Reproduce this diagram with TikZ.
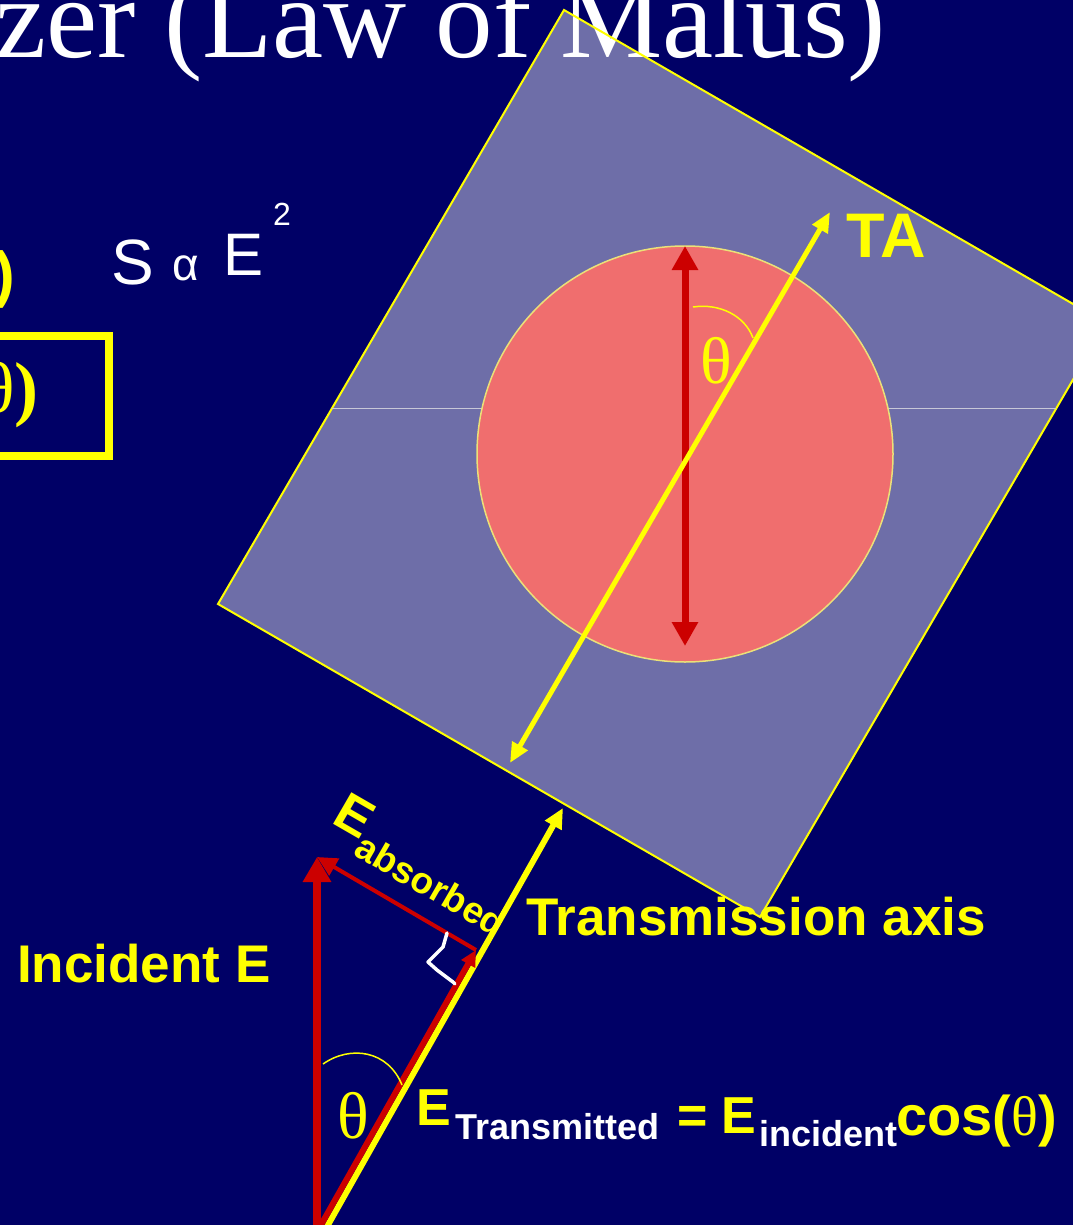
\documentclass[tikz,border=0pt]{standalone}
\usepackage{fontspec}
\setmainfont{Liberation Serif}
\setsansfont{Liberation Sans}
\usetikzlibrary{arrows.meta}
\definecolor{navybg}{RGB}{0,0,102}
\definecolor{ylw}{RGB}{255,255,0}
\definecolor{dred}{RGB}{204,0,0}
\definecolor{salmon}{RGB}{240,110,110}
\definecolor{paleyel}{RGB}{235,225,120}
\definecolor{faint}{RGB}{200,200,215}
\tikzset{
  lbl/.style={inner sep=0pt, text=ylw, font=\sffamily\bfseries\fontsize{53}{53}\selectfont},
  sub/.style={inner sep=0pt, text=white, font=\sffamily\bfseries\fontsize{36}{36}\selectfont},
  greek/.style={inner sep=0pt, text=ylw, font=\rmfamily\fontsize{66}{66}\selectfont},
  hand/.style={inner sep=0pt, text=white, font=\sffamily},
  redvec/.style={draw=dred, line cap=butt},
  ylwvec/.style={draw=ylw}
}
\begin{document}
\begin{tikzpicture}[x=1pt,y=-1pt]
\useasboundingbox (0,0) rectangle (1073,1225);
\clip (0,0) rectangle (1073,1225);
\fill[navybg] (0,0) rectangle (1073,1225);

% title (cut off)
\node[anchor=base west, inner sep=0pt, text=white, font=\rmfamily\fontsize{115}{115}\selectfont] (title) at (-5,58) {zer (Law of Malus)};

% partial formula texts at left
\node[anchor=base east, inner sep=0pt, text=ylw, font=\sffamily\bfseries\fontsize{62}{62}\selectfont] (paren1) at (15,295) {)};
\draw[ylw, line width=8pt] (-20,336) -- (109,336) -- (109,456) -- (-20,456);
\node[anchor=base east, inner sep=0pt, text=ylw, font=\rmfamily\fontsize{72}{72}\selectfont] (paren2) at (39,412) {θ\textbf{)}};

% handwritten S alpha E^2
\node[hand, font=\sffamily\fontsize{64}{64}\selectfont] (hs) at (133,262) {S};
\node[hand, font=\sffamily\fontsize{46}{46}\selectfont] (ha) at (186,268) {α};
\node[hand, font=\sffamily\fontsize{60}{60}\selectfont] (he) at (244,255) {E};
\node[hand, font=\sffamily\fontsize{32}{32}\selectfont] (h2) at (282,214) {2};

% polarizer sheet
\coordinate (sqT) at (564,10);
\coordinate (sqR) at (1106,323);
\coordinate (sqB) at (760,917);
\coordinate (sqL) at (218,604);
\draw[ylw, line width=2pt, fill=white, fill opacity=0.43] (sqT) -- (sqR) -- (sqB) -- (sqL) -- cycle;
\coordinate (hl1) at (332,408);
\coordinate (hl2) at (1056,408);
\draw[faint, line width=1pt] (hl1) -- (hl2);

% circle
\node[circle, fill=salmon, draw=paleyel, line width=1.5pt, minimum size=416pt, inner sep=0pt] (disk) at (685,454) {};

% red E field double arrow
\coordinate (rtop) at (685,246);
\coordinate (rbot) at (685,646);
\draw[redvec, line width=7pt, {Triangle[length=24pt,width=25pt]}-{Triangle[length=24pt,width=25pt]}] (rbot) -- (rtop);

% angle arc (top)
\coordinate (a1s) at (693,307);
\coordinate (a1e) at (753,338);
\draw[ylw, line width=1.5pt] (a1s) .. controls (720,303) and (745,316) .. (a1e);

% TA arrow
\coordinate (ta1) at (510,763);
\coordinate (ta2) at (830,212);
\draw[ylwvec, line width=5pt, {Triangle[length=20pt,width=17pt]}-{Triangle[length=20pt,width=17pt]}] (ta1) -- (ta2);

\node[lbl, anchor=base west, font=\sffamily\bfseries\fontsize{63}{63}\selectfont] (TA) at (846,257) {TA};
\node[greek, anchor=center] (th1) at (716,361) {θ};

% lower vector diagram
\coordinate (O) at (317,1232);
\coordinate (incTip) at (317,857);
\coordinate (Oy) at (324,1232);
\coordinate (axTip) at (563,808);
\coordinate (trTip) at (476,950);

\draw[redvec, line width=8pt, -{Triangle[length=25pt,width=27pt]}] (O) -- (incTip);
\draw[ylwvec, line width=6pt, -{Triangle[length=20pt,width=18pt]}] (Oy) -- (axTip);
\draw[redvec, line width=6pt, -{Triangle[length=16pt,width=15pt]}] (O) -- (trTip);
\draw[redvec, line width=4pt, -{Triangle[length=20pt,width=19pt]}] (trTip) -- (incTip);

% right angle mark
\draw[white, line width=3.5pt, line cap=round, line join=round] (447,933) -- (443,947) -- (428,962) -- (437,970) -- (453,982) -- (455,984);

% angle arc (bottom)
\coordinate (a2s) at (323,1064);
\coordinate (a2e) at (402,1085);
\draw[ylw, line width=1.5pt] (a2s) .. controls (350,1045) and (388,1050) .. (a2e);
\node[greek, anchor=center] (th2) at (353,1116) {θ};

% labels
\node[lbl, anchor=base west, rotate=-30] (eabs) at (330,822) {E\raisebox{-17pt}{\fontsize{37}{37}\selectfont absorbed}};
\node[lbl, anchor=base west] (tax) at (526,935) {Transmission axis};
\node[lbl, anchor=base west] (inc) at (17,982) {Incident E};

% equation
\node[lbl, anchor=base west, font=\sffamily\bfseries\fontsize{52}{52}\selectfont] (eq1) at (416,1125) {E};
\node[sub, anchor=base west] (eq2) at (455,1139) {Transmitted};
\node[lbl, anchor=base west, font=\sffamily\bfseries\fontsize{52}{52}\selectfont] (eq3) at (677,1133) {=};
\node[lbl, anchor=base west, font=\sffamily\bfseries\fontsize{52}{52}\selectfont] (eq4) at (721,1133) {E};
\node[sub, anchor=base west] (eq5) at (759,1146) {incident};
\node[lbl, anchor=base west, font=\sffamily\bfseries\fontsize{56}{56}\selectfont] (eq6) at (896,1135) {cos(\textrm{\fontseries{m}\selectfont θ})};
\end{tikzpicture}
\end{document}
